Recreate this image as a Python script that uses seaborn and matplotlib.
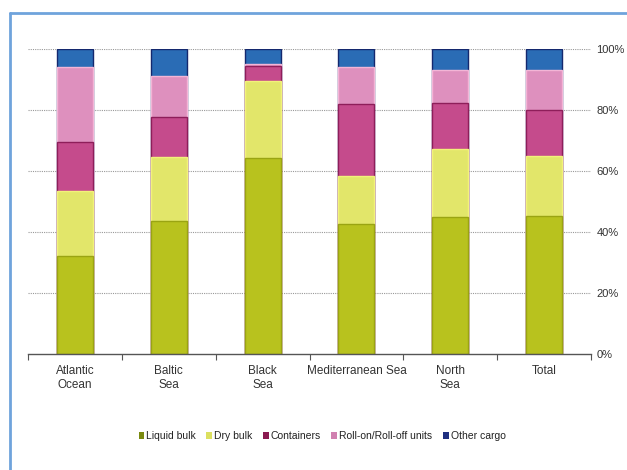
import numpy as np
import pandas as pd
import matplotlib
matplotlib.use("Agg")
import matplotlib.pyplot as plt
import seaborn as sns
from matplotlib.lines import Line2D
from matplotlib.patches import Patch

categories = ["Atlantic\nOcean", "Baltic\nSea", "Black\nSea", "Mediterranean Sea", "North\nSea", "Total"]
series_names = ["Liquid bulk", "Dry bulk", "Containers", "Roll-on/Roll-off units", "Other cargo"]
liquid_bulk = [32.0, 43.6, 64.2, 42.5, 45.0, 45.3]
dry_bulk = [21.5, 21.1, 25.3, 15.9, 22.2, 19.6]
containers = [16.0, 12.9, 5.0, 23.6, 15.0, 15.0]
roro = [24.5, 13.7, 0.5, 12.0, 10.9, 13.2]
other = [6.0, 8.7, 5.0, 6.0, 6.9, 6.9]
y_ticks = [0, 20, 40, 60, 80, 100]
y_tick_labels = ["0%", "20%", "40%", "60%", "80%", "100%"]

fills = ["#B8C21E", "#E2E66A", "#C54B8C", "#DE90BE", "#2A6CB5"]
edges = ["#9AA412", "#F2F27A", "#8E1E5A", "#F3B5D6", "#14286E"]
legend_cols = ["#7A8A10", "#DCE060", "#8B1A50", "#D080B0", "#1F2F80"]

sns.set_theme(style="white")
plt.rcParams["font.family"] = ["Liberation Sans", "DejaVu Sans"]

series = [liquid_bulk, dry_bulk, containers, roro, other]
vals = np.array(series)
tot = vals.sum(axis=0)
cum = np.cumsum(vals / tot * 100, axis=0)

fig = plt.figure(figsize=(6.27, 4.70), dpi=100)
ax = fig.add_axes([28 / 627, 1 - 354 / 470, (591 - 28) / 627, (354 - 49) / 470])

for i in range(len(series) - 1, -1, -1):
    df = pd.DataFrame({"cat": categories, "val": cum[i]})
    sns.barplot(data=df, x="cat", y="val", ax=ax, color=fills[i], width=0.385,
                edgecolor=edges[i], linewidth=1.0, saturation=1, zorder=3)

ax.set_xlim(-0.5, len(categories) - 0.5)
ax.set_ylim(0, 100)
ax.set_xlabel("")
ax.set_ylabel("")
for yv in y_ticks[1:]:
    ax.axhline(yv, color="#999999", lw=0.8, ls=(0, (1, 1)), zorder=1)

ax.yaxis.tick_right()
ax.set_yticks(y_ticks)
ax.set_yticklabels(y_tick_labels)
ax.tick_params(axis="y", length=0, pad=4, labelsize=8, labelcolor="#333333")

ax.set_xticks(np.arange(-0.5, len(categories), 1.0))
ax.set_xticklabels([""] * (len(categories) + 1))
ax.set_xticks(np.arange(len(categories)), minor=True)
ax.set_xticklabels(categories, minor=True)
ax.tick_params(axis="x", which="major", length=4, width=0.8, color="#555555", direction="out", bottom=True)
ax.tick_params(axis="x", which="minor", length=0, pad=8, labelsize=8.5, labelcolor="#333333")

for s in ["top", "left", "right"]:
    ax.spines[s].set_visible(False)
ax.spines["bottom"].set_color("#555555")
ax.spines["bottom"].set_linewidth(1.0)
ax.spines["bottom"].set_zorder(4)

handles = [Patch(facecolor=legend_cols[i], edgecolor="none", label=series_names[i]) for i in range(5)]
fig.legend(handles=handles, loc="center", bbox_to_anchor=(322 / 627, 1 - 436 / 470), ncol=5,
           frameon=False, fontsize=7.5, handlelength=0.55, handleheight=0.7, handletextpad=0.2,
           columnspacing=1.0, labelcolor="#222222")

# blue frame
fig.add_artist(Line2D([10 / 627, 10 / 627], [0, 1 - 13 / 470], color="#6FA3DC", lw=2, transform=fig.transFigure))
fig.add_artist(Line2D([10 / 627, 1], [1 - 13 / 470, 1 - 13 / 470], color="#6FA3DC", lw=2, transform=fig.transFigure))

fig.savefig("out.png", dpi=100)
